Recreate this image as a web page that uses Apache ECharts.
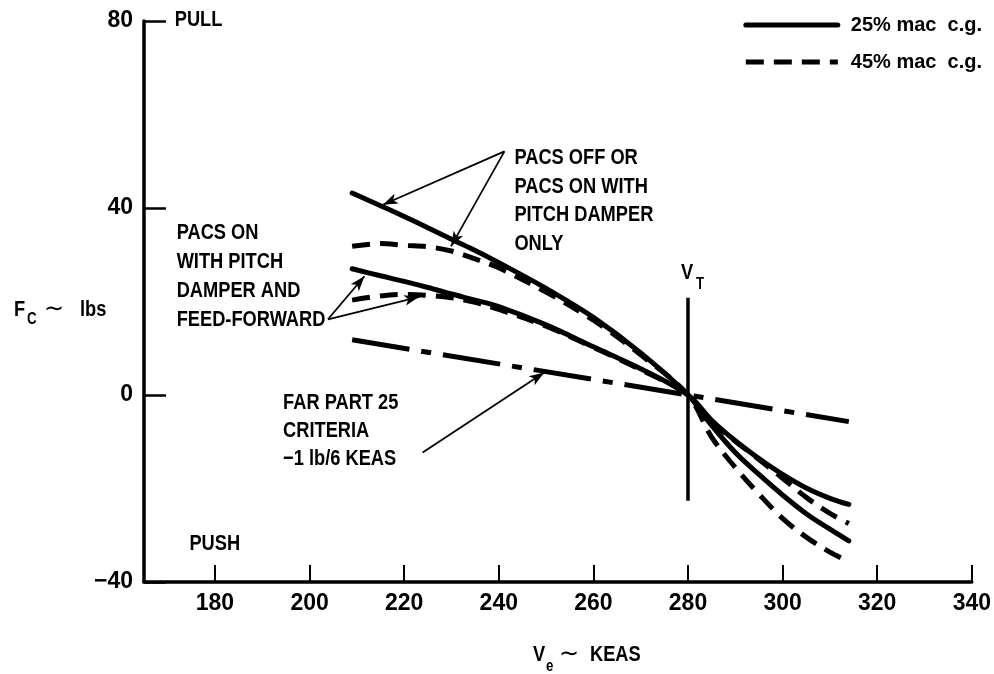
<!DOCTYPE html>
<html>
<head>
<meta charset="utf-8">
<script src="https://cdn.jsdelivr.net/npm/echarts@6/dist/echarts.min.js"></script>
<style>
  html, body { margin: 0; padding: 0; background: #fff; }
  #chart { width: 994px; height: 674px; }
</style>
</head>
<body>
<div id="chart"></div>
<script>
// Equivalent airspeed (KEAS) at which the stick-force curves are sampled
const keas = [209, 215, 220, 225, 230, 235, 240, 250, 260, 270, 280, 285, 290, 295, 300, 305, 310, 314];

// Column force Fc (lb), pull positive
// PACS off, or PACS on with pitch damper only
const pacsOff25 = [43.2, 40.5, 38.2, 35.8, 33.3, 30.9, 28.3, 22.8, 16.6, 9.0, 0, -6.5, -12.3, -17.0, -21.4, -25.4, -28.7, -31.2];
const pacsOff45 = [31.8, 32.4, 32.0, 31.7, 30.8, 29.1, 27.2, 22.0, 16.0, 8.6, 0, -9.0, -15.5, -21.2, -26.4, -30.4, -33.6, -35.6];
// PACS on with pitch damper and feed-forward
const pacsFf25 = [27.0, 25.5, 24.3, 23.0, 21.6, 20.3, 18.9, 15.0, 10.3, 5.6, 0, -5.4, -9.8, -13.6, -17.0, -19.9, -22.1, -23.4];
const pacsFf45 = [20.3, 21.2, 21.5, 21.3, 20.8, 19.8, 18.3, 14.7, 10.2, 5.4, 0, -5.8, -9.9, -13.8, -17.8, -21.9, -25.3, -27.5];

// FAR Part 25 criterion: -1 lb per 6 KEAS through the trim speed
const farKeas = [209, 280, 314];
const farForce = [11.8, 0, -5.7];

// Trim speed V_T marker
const trimKeas = 280;
const trimForce = [20.8, -22.6];

// Axis ticks
const xTicks = [180, 200, 220, 240, 260, 280, 300, 320, 340];

const SANS = "'Liberation Sans', Arial, sans-serif";
const INK = '#000';
const SQUEEZE = 0.83;   // horizontal squeeze for the condensed lettering

const pairs = (xs, ys) => xs.map((x, i) => [x, ys[i]]);

// Leader arrows: from the label corner to the curve (KEAS, lb)
const arrowSets = {
  off: { from: [241.2, 52.1], to: [[215.5, 40.7], [229.9, 31.8]] },
  ff:  { from: [203.9, 16.2], to: [[211.6, 25.4], [223.2, 21.0]] },
  far: { from: [223.9, -12.3], to: [[249.6, 4.8]] }
};

function arrows(set) {
  return {
    silent: true,
    animation: false,
    symbol: ['none', 'arrow'],
    symbolSize: [8, 15],
    label: { show: false },
    lineStyle: { type: 'solid', color: INK, width: 1.8 },
    emphasis: { disabled: true },
    data: set.to.map(t => [{ coord: set.from }, { coord: t }])
  };
}

const solid = { color: INK, width: 5, type: 'solid', cap: 'round' };
const dashed = { color: INK, width: 5, type: [18, 10], cap: 'butt' };

const chart = echarts.init(document.getElementById('chart'));

chart.setOption({
  animation: false,
  backgroundColor: '#fff',
  grid: { left: 144, right: 20, top: 21, bottom: 92 },
  legend: {
    data: ['25% mac c.g.', '45% mac c.g.'],
    orient: 'vertical',
    right: 7,
    top: 9,
    itemWidth: 92,
    itemHeight: 14,
    itemGap: 15,
    selectedMode: false,
    itemStyle: { opacity: 0 },
    lineStyle: { width: 5 },
    textStyle: { color: INK, fontSize: 20, fontWeight: 'bold', fontFamily: SANS, lineHeight: 22, padding: [0, 0, 0, 8] },
    formatter: n => n.replace(' c.g.', '  c.g.')
  },
  xAxis: {
    type: 'value',
    min: 165,
    max: 340,
    axisLine: { onZero: false, lineStyle: { color: INK, width: 3.5 } },
    axisTick: { show: true, inside: true, length: 17, customValues: xTicks, lineStyle: { color: INK, width: 2 } },
    axisLabel: { customValues: xTicks, color: INK, fontSize: 23, fontWeight: 'bold', fontFamily: SANS, margin: 10 },
    splitLine: { show: false }
  },
  yAxis: {
    type: 'value',
    min: -40,
    max: 80,
    interval: 40,
    axisLine: { show: true, onZero: false, lineStyle: { color: INK, width: 3.5 } },
    axisTick: { show: true, inside: true, length: 22, lineStyle: { color: INK, width: 2.5 } },
    axisLabel: {
      color: INK, fontSize: 23, fontWeight: 'bold', fontFamily: SANS, margin: 11,
      formatter: v => (v < 0 ? '\u2212' + Math.abs(v) : String(v))
    },
    splitLine: { show: false }
  },
  series: [
    {
      name: '25% mac c.g.', type: 'line', smooth: 0.35, symbol: 'none',
      data: pairs(keas, pacsOff25), lineStyle: solid, z: 3,
      markLine: arrows(arrowSets.off)
    },
    {
      name: '25% mac c.g.', type: 'line', smooth: 0.35, symbol: 'none',
      data: pairs(keas, pacsFf25), lineStyle: solid, z: 3,
      markLine: arrows(arrowSets.ff)
    },
    {
      name: '45% mac c.g.', type: 'line', smooth: 0.35, symbol: 'none',
      data: pairs(keas, pacsOff45), lineStyle: dashed, z: 3
    },
    {
      name: '45% mac c.g.', type: 'line', smooth: 0.35, symbol: 'none',
      data: pairs(keas, pacsFf45), lineStyle: dashed, z: 3
    },
    {
      name: 'FAR Part 25 criteria', type: 'line', symbol: 'none',
      data: pairs(farKeas, farForce),
      lineStyle: { color: INK, width: 5, type: [58, 12, 10, 12], cap: 'butt' },
      markLine: arrows(arrowSets.far)
    },
    {
      name: 'V_T', type: 'line', symbol: 'none',
      data: trimForce.map(f => [trimKeas, f]),
      lineStyle: { color: INK, width: 3.5 }
    }
  ]
});

// Text annotations anchored in data space (KEAS, lb)
const px = p => chart.convertToPixel({ gridIndex: 0 }, p);

// condensed bold lettering: squeezed horizontally about its left edge
function txt(x, y, s, size, opts) {
  const o = opts || {};
  return {
    type: 'text', silent: true,
    x: x, y: y, scaleX: o.scaleX || SQUEEZE,
    style: {
      x: 0, y: 0, text: s, fill: INK,
      fontSize: size, fontFamily: o.fontFamily || SANS, fontWeight: o.fontWeight || 'bold',
      lineHeight: o.lineHeight, align: 'left', verticalAlign: o.verticalAlign || 'middle'
    }
  };
}
function block(anchor, lines, lh) {
  const p = px(anchor);
  return txt(p[0], p[1] - lh / 2, lines.join('\n'), 22, { lineHeight: lh, verticalAlign: 'top' });
}

const vt = px([trimKeas, 25.2]);
const gLeft = px([165, 0])[0];
const gBottom = px([165, -40])[1];

chart.setOption({
  graphic: [
    block([243.3, 50.7], ['PACS OFF OR', 'PACS ON WITH', 'PITCH DAMPER', 'ONLY'], 28.6),
    block([171.9, 34.7], ['PACS ON', 'WITH PITCH', 'DAMPER AND', 'FEED-FORWARD'], 28.9),
    block([194.4, -1.6], ['FAR PART 25', 'CRITERIA', '\u22121 lb/6 KEAS'], 28.3),
    block([174.6, -31.9], ['PUSH'], 24),
    block([171.5, 80.2], ['PULL'], 24),
    // V_T
    txt(vt[0] - 7, vt[1] - 4, 'V', 22),
    txt(vt[0] + 8, vt[1] + 7, 'T', 16),
    // y-axis title: Fc ~ lbs
    txt(gLeft - 130, 310, 'F', 22),
    txt(gLeft - 117, 320, 'C', 16),
    txt(gLeft - 100, 310, '\u223C', 24, { fontFamily: 'DejaVu Sans', fontWeight: 'normal', scaleX: 1 }),
    txt(gLeft - 64, 310, 'lbs', 22),
    // x-axis title: Ve ~ KEAS
    txt(533, gBottom + 73, 'V', 22),
    txt(546, gBottom + 85, 'e', 16),
    txt(559, gBottom + 73, '\u223C', 24, { fontFamily: 'DejaVu Sans', fontWeight: 'normal', scaleX: 1 }),
    txt(590, gBottom + 73, 'KEAS', 22)
  ]
});
</script>
</body>
</html>
